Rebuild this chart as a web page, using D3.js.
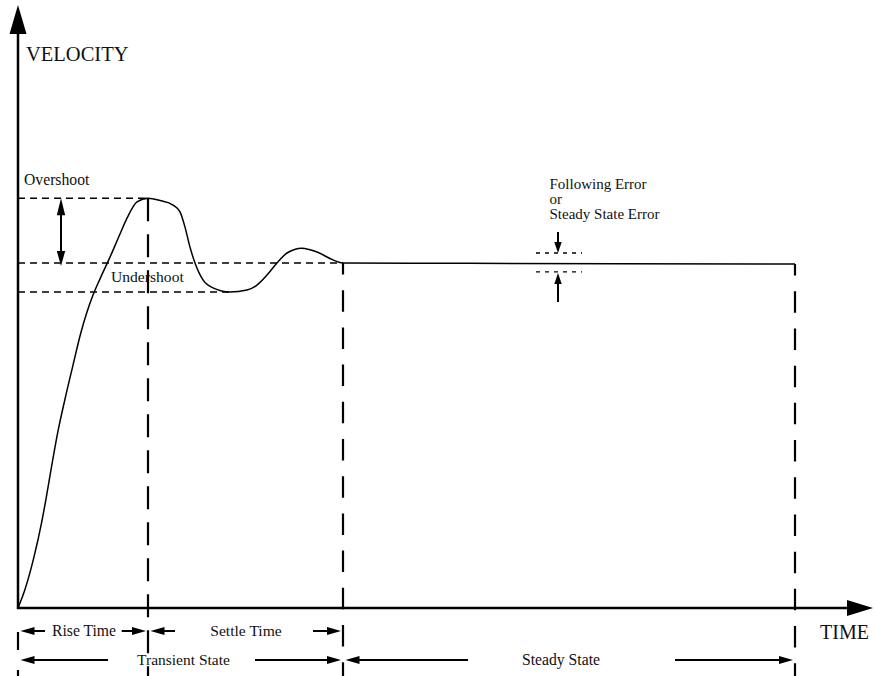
<!DOCTYPE html>
<html><head><meta charset="utf-8">
<script src="https://cdn.jsdelivr.net/npm/d3@7"></script>
<style>html,body{margin:0;padding:0;background:#fff;}</style>
</head><body>
<script>
// ---- data ----
const time = [0, 0.68, 1.6, 2.35, 2.78, 3.35, 3.96, 4.68, 5.46, 6.28, 7.5, 8.2, 9.2, 10.2, 10.9, 11.9, 13.0,
  14.2, 15.5, 16.2, 16.7, 17.2, 17.7, 18.5, 19.5, 21.2, 22.9, 23.9, 24.9, 25.9, 26.9, 28.4, 29.9, 31.5, 32.5, 45, 60, 77.7];
const velocity = [0, 0.052, 0.148, 0.246, 0.313, 0.409, 0.507, 0.603, 0.699, 0.797, 0.907, 0.954, 1.017, 1.084, 1.130, 1.177, 1.188,
  1.181, 1.168, 1.148, 1.104, 1.046, 1.0, 0.951, 0.928, 0.916, 0.922, 0.936, 0.965, 1.0, 1.029, 1.043, 1.032, 1.009, 1.0, 0.999, 0.998, 0.997];
const levelNames = ["Overshoot", "Steady", "Undershoot"];
const levelValues = [1.188, 1.0, 0.916];
const levelEnds = [13.0, 32.5, 21.2];
const phaseBounds = [0, 13.0, 32.5, 77.7];
const phaseLabels = ["Rise Time", "Settle Time", "Transient State", "Steady State"];
const phaseStart = [0, 13.0, 0, 32.5];
const phaseEnd = [13.0, 32.5, 32.5, 77.7];
const errorTime = 54;
const errorBand = [1.029, 0.974];
const errorLabel = ["Following Error", "or", "Steady State Error"];
const axisMax = [85.5, 1.748];

// ---- layout ----
const W = 875, H = 676;
const FONT = '"Liberation Serif", Tinos, "Times New Roman", "Nimbus Roman", "DejaVu Serif", serif';
const x = d3.scaleLinear().domain([0, axisMax[0]]).range([18, 873]);
const y = d3.scaleLinear().domain([0, 1]).range([608, 263]);
const svg = d3.select("body").append("svg").attr("width", W).attr("height", H);

function tri(g, tx, ty, dir, len, hw) {
  let pts;
  if (dir === 'r') pts = [[tx, ty], [tx - len, ty - hw], [tx - len, ty + hw]];
  if (dir === 'l') pts = [[tx, ty], [tx + len, ty - hw], [tx + len, ty + hw]];
  if (dir === 'u') pts = [[tx, ty], [tx - hw, ty + len], [tx + hw, ty + len]];
  if (dir === 'd') pts = [[tx, ty], [tx - hw, ty - len], [tx + hw, ty - len]];
  g.append("path").attr("d", "M" + pts.map(p => p.join(",")).join("L") + "Z").attr("fill", "#000");
}
function label(t, px, py, size, anchor) {
  return svg.append("text").attr("x", px).attr("y", py).text(t)
    .attr("text-anchor", anchor || "start")
    .attr("font-family", FONT)
    .attr("font-size", size).attr("fill", "#111");
}

// horizontal dashed level lines
levelValues.forEach((v, i) => {
  svg.append("line").attr("x1", x(0)).attr("x2", x(levelEnds[i]))
    .attr("y1", y(v)).attr("y2", y(v))
    .attr("stroke", "#000").attr("stroke-width", 1.5).attr("stroke-dasharray", "7,5");
});

// vertical dashed phase lines
const vStart = [levelValues[0], levelValues[1], velocity[velocity.length - 1]];
const vOffset = [0, 10, 10];
phaseBounds.slice(1).forEach((t, i) => {
  svg.append("line").attr("x1", x(t)).attr("x2", x(t))
    .attr("y1", y(vStart[i])).attr("y2", H + 20)
    .attr("stroke", "#000").attr("stroke-width", 2.2)
    .attr("stroke-dasharray", i === 0 ? "23,13" : "21.5,15.7")
    .attr("stroke-dashoffset", vOffset[i]);
});
svg.append("line").attr("x1", x(0)).attr("x2", x(0)).attr("y1", 632).attr("y2", H + 20)
  .attr("stroke", "#000").attr("stroke-width", 2.2).attr("stroke-dasharray", "18,20");

// axes
svg.append("line").attr("x1", x(0)).attr("x2", x(0)).attr("y1", y(0) + 1).attr("y2", 30)
  .attr("stroke", "#000").attr("stroke-width", 2.5);
tri(svg, x(0), y(axisMax[1]), 'u', 29, 8.5);
svg.append("line").attr("x1", x(0) - 1).attr("x2", 850).attr("y1", y(0)).attr("y2", y(0))
  .attr("stroke", "#000").attr("stroke-width", 2.5);
tri(svg, x(axisMax[0]), y(0), 'r', 26, 8);

// response curve
const line = d3.line().x((d, i) => x(time[i])).y(d => y(d)).curve(d3.curveMonotoneX);
svg.append("path").datum(velocity).attr("d", line)
  .attr("fill", "none").attr("stroke", "#000").attr("stroke-width", 1.5);

// axis labels
label("VELOCITY", 26, 61, 20.5);
label("TIME", 820, 639, 20);

// overshoot arrow
const ax = 61;
svg.append("line").attr("x1", ax).attr("x2", ax).attr("y1", y(levelValues[0]) + 10).attr("y2", y(levelValues[1]) - 8)
  .attr("stroke", "#000").attr("stroke-width", 2);
tri(svg, ax, y(levelValues[0]), 'u', 17, 4.2);
tri(svg, ax, y(levelValues[1]) + 3, 'd', 15, 4.2);
label(levelNames[0], 24, 185, 15.7);
label(levelNames[2], 111, 282, 15.6);

// following error annotation
const ex = x(errorTime);
errorBand.forEach(v => {
  svg.append("line").attr("x1", 536).attr("x2", 582).attr("y1", y(v)).attr("y2", y(v))
    .attr("stroke", "#000").attr("stroke-width", 1.3).attr("stroke-dasharray", "4,5");
});
svg.append("line").attr("x1", ex).attr("x2", ex).attr("y1", 232).attr("y2", y(errorBand[0]) - 8)
  .attr("stroke", "#000").attr("stroke-width", 2);
tri(svg, ex, y(errorBand[0]), 'd', 11, 3.7);
svg.append("line").attr("x1", ex).attr("x2", ex).attr("y1", y(errorBand[1]) + 8).attr("y2", 302)
  .attr("stroke", "#000").attr("stroke-width", 2);
tri(svg, ex, y(errorBand[1]) + 1, 'u', 11, 3.7);
errorLabel.forEach((s, i) => label(s, 549.5, 189 + i * 15, 15));

// phase labels
const rowY = [631, 631, 660, 660];
const leftLen = [27, 27, 90, 125];
const rightLen = [26.3, 30, 88, 120];
const textDx = [1, 0.5, 3, -8];
const textSize = [15.7, 15.6, 15.5, 15.7];
phaseLabels.forEach((lab, i) => {
  const x0 = x(phaseStart[i]), x1 = x(phaseEnd[i]), yy = rowY[i];
  const tipL = x0 + 2.5, tipR = x1 - 2;
  svg.append("line").attr("x1", tipL + 10).attr("x2", x0 + leftLen[i]).attr("y1", yy).attr("y2", yy)
    .attr("stroke", "#000").attr("stroke-width", 2);
  tri(svg, tipL, yy, 'l', 14, 3.9);
  svg.append("line").attr("x1", x1 - rightLen[i]).attr("x2", tipR - 10).attr("y1", yy).attr("y2", yy)
    .attr("stroke", "#000").attr("stroke-width", 2);
  tri(svg, tipR, yy, 'r', 14, 3.9);
  label(lab, (x0 + x1) / 2 + textDx[i], yy + 5, textSize[i], "middle");
});
</script>
</body></html>
